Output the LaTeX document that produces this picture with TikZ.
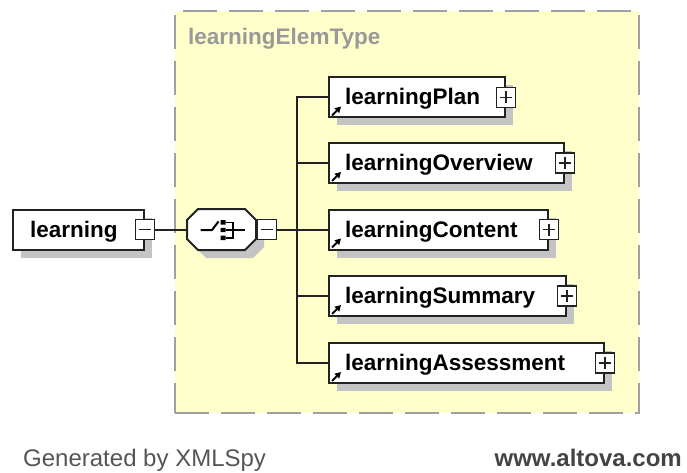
\documentclass[tikz,border=0pt]{standalone}
\usepackage{fontspec}
\setmainfont{Liberation Sans}
\usetikzlibrary{shadows,arrows.meta}
\definecolor{bgyellow}{HTML}{FFFFCC}
\definecolor{dashgray}{HTML}{A0A0A0}
\definecolor{shadowgray}{HTML}{C4C4C4}
\definecolor{titlegray}{HTML}{999999}
\definecolor{footgray}{HTML}{555555}
\definecolor{footdark}{HTML}{444444}
\definecolor{linedark}{HTML}{222222}
\begin{document}
\begin{tikzpicture}[x=1pt,y=-1pt,
  elemfont/.style={font=\fontsize{22.5}{26}\selectfont\bfseries},
  elem/.style={draw=linedark, line width=2pt, fill=white, elemfont,
    inner xsep=16pt, inner ysep=0pt, minimum height=40pt, align=left,
    text height=17pt, text depth=2pt, anchor=west,
    drop shadow={shadow xshift=8pt,shadow yshift=-8pt,fill=shadowgray,opacity=1}},
  pmbox/.style={draw=linedark, line width=1.8pt, fill=white,
    minimum width=19pt, minimum height=20pt, inner sep=0pt},
  plusbox/.style={pmbox, path picture={
    \draw[line width=1.7pt] ([xshift=-6pt]path picture bounding box.center) -- ([xshift=6pt]path picture bounding box.center)
      ([yshift=-6pt]path picture bounding box.center) -- ([yshift=6pt]path picture bounding box.center);}},
  minusbox/.style={pmbox, path picture={
    \draw[line width=1.7pt] ([xshift=-6pt]path picture bounding box.center) -- ([xshift=6pt]path picture bounding box.center);}},
  conn/.style={draw=linedark, line width=2pt},
  refarrow/.style={line width=2pt, -{Triangle[length=6pt,width=6.5pt]}}
]
\useasboundingbox (0,0) rectangle (687,473);
\fill[white] (0,0) rectangle (687,473);

% complex type box
\node[draw=dashgray, line width=2pt, dash pattern=on 34pt off 12pt, fill=bgyellow,
      minimum width=464pt, minimum height=402pt, inner sep=0pt] (type) at (407,212) {};
\node[elemfont, text=titlegray, anchor=base west, inner sep=0pt] (title) at (188,45) {learningElemType};

% root element
\node[elem, text width=97pt, inner xsep=17pt] (learning) at (12,229.5) {learning};
\node[minusbox] (lm) at (learning.east) {};

% sequence compositor
\node[minimum width=69pt, minimum height=41pt, inner sep=0pt] (seq) at (221.5,229.5) {};
\fill[shadowgray, shift={(8,8)}] (198,209) -- (245,209) -- (256,220) -- (256,239) -- (245,250) -- (198,250) -- (187,239) -- (187,220) -- cycle;
\draw[line width=2pt, draw=linedark, fill=white] (198,209) -- (245,209) -- (256,220) -- (256,239) -- (245,250) -- (198,250) -- (187,239) -- (187,220) -- cycle;
\draw[line width=2pt] (200.5,230) -- (212,230) -- (218.5,221.5);
\fill (220.5,220) rectangle (225.5,224.5) (220.5,227.8) rectangle (225.5,232.2) (220.5,235.5) rectangle (225.5,240);
\draw[line width=1.8pt] (225.5,222.5) -- (233,222.5) -- (233,237.7) -- (225.5,237.7) (225.5,230) -- (245,230);
\node[minusbox] (seqm) at (267,229.5) {};

\draw[conn] (lm.east) -- (seq.west);
\coordinate (bus) at (297,229.5);
\draw[conn] (seqm.east) -- (bus);

% child elements
\node[elem, text width=144pt] (plan) at (328,97.5) {learningPlan};
\node[elem, text width=203pt] (overview) at (328,163) {learningOverview};
\node[elem, text width=187pt] (content) at (328,229.5) {learningContent};
\node[elem, text width=205pt] (summary) at (328,296) {learningSummary};
\node[elem, text width=243pt] (assess) at (328,363) {learningAssessment};

\foreach \n in {plan,overview,content,summary,assess}{
  \node[plusbox] (\n p) at (\n.east) {};
  \draw[refarrow] ([shift={(4,-3)}]\n.south west) -- ++(9,-9);
  \draw[conn] (bus) |- (\n.west);
}

% footer
\node[anchor=base west, inner sep=0pt, font=\fontsize{24}{28}\selectfont, text=footgray] (gen) at (23,466) {Generated by XMLSpy};
\node[anchor=base east, inner sep=0pt, font=\fontsize{24}{28}\selectfont\bfseries, text=footdark] (url) at (682,466) {www.altova.com};
\end{tikzpicture}
\end{document}
